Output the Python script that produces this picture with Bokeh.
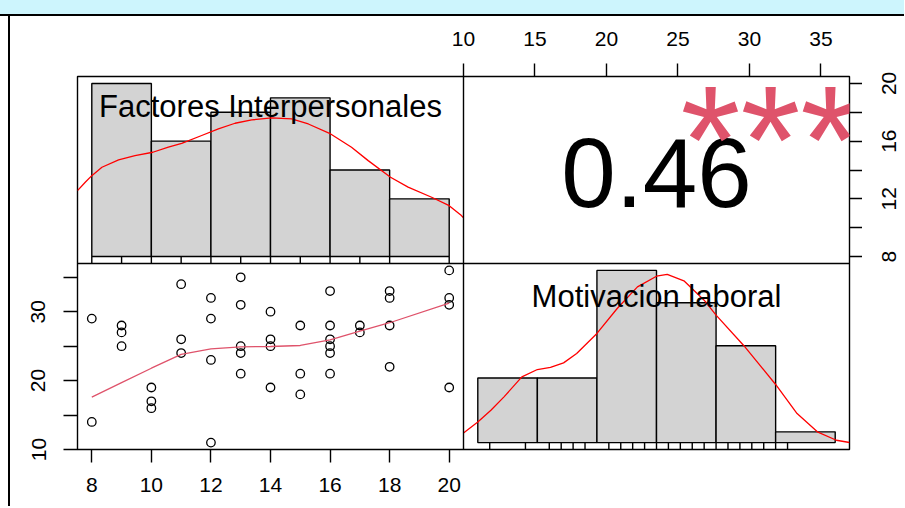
import numpy as np
from bokeh.plotting import figure
from bokeh.layouts import column, row
from bokeh.models import Range1d, LinearAxis, FixedTicker, Div, Span
from bokeh.core.properties import value
from bokeh.embed import file_html
from bokeh.resources import INLINE

# ---------------- data ----------------
var_names = ["Factores Interpersonales", "Motivacion laboral"]

factores = [8, 8, 9, 9, 9, 10, 10, 10, 11, 11, 11, 12, 12, 12, 12,
            13, 13, 13, 13, 13, 14, 14, 14, 14, 15, 15, 15,
            16, 16, 16, 16, 16, 16, 17, 17, 18, 18, 18, 18, 20, 20, 20, 20]
motivacion = [29, 14, 28, 27, 25, 19, 17, 16, 34, 26, 24, 32, 29, 23, 11,
              35, 31, 25, 24, 21, 30, 26, 25, 19, 28, 21, 18,
              33, 28, 26, 25, 24, 21, 28, 27, 33, 32, 28, 22, 36, 32, 31, 19]

hist1_edges = [8, 10, 12, 14, 16, 18, 20]
hist1_counts = [12, 8, 10, 11, 6, 4]
hist2_edges = [10, 15, 20, 25, 30, 35, 40]
hist2_counts = [6, 6, 16, 13, 9, 1]

# density curves (in count units of the histograms)
dens1_x = [7.52, 7.78, 8.0, 8.34, 8.9, 9.45, 10.05, 10.57, 11.02, 11.69, 12.25,
           12.81, 13.37, 14.04, 14.71, 15.27, 16.02, 16.72, 17.28, 18.03, 18.62,
           19.41, 20.0, 20.41, 20.48]
dens1_y = [4.57, 5.15, 5.61, 6.19, 6.70, 7.00, 7.23, 7.58, 7.85, 8.39, 8.85,
           9.24, 9.47, 9.61, 9.54, 9.19, 8.50, 7.58, 6.65, 5.50, 4.81,
           4.11, 3.53, 2.84, 2.69]
dens2_x = [8.8, 10.0, 11.1, 12.2, 13.7, 15.0, 16.1, 17.2, 18.3, 20.0, 21.7, 23.4,
           25.0, 25.9, 27.3, 29.0, 30.0, 32.3, 35.0, 36.8, 38.5, 40.1, 41.2]
dens2_y = [0.90, 1.92, 3.01, 4.25, 6.11, 6.79, 6.98, 7.41, 8.28, 10.14, 12.46, 14.47,
           15.46, 15.62, 15.03, 13.23, 11.84, 9.05, 5.40, 2.70, 1.00, 0.22, 0.01]

# smoother in the scatter panel
smooth_x = [8, 9, 10, 11, 12, 13, 14, 15, 16, 17, 18, 20]
smooth_y = [17.6, 19.7, 21.8, 23.8, 24.6, 24.9, 24.95, 25.1, 25.9, 27.2, 28.4, 31.25]

corr_text = "0.46"
signif_text = "***"

fact_ticks = [8, 10, 12, 14, 16, 18, 20]
fact_labelled = [8, 12, 16, 20]            # right axis: labels drawn
mot_ticks = [10, 15, 20, 25, 30, 35]
mot_labelled = [10, 20, 30]                # left axis: labels drawn

# ---------------- geometry helpers ----------------
FONT = "Liberation Sans"
LW = 1.4
FW = 386          # width of one panel
FH_T = 187        # height of the top row of panels
FH_B = 186        # height of the bottom row of panels


def padded(lo, hi, f=0.04):
    d = (hi - lo) * f
    return lo - d, hi + d


def left_full(lo, hi):
    return lo, hi + (hi - lo)


def right_full(lo, hi):
    return lo - (hi - lo), hi


def top_full(lo, hi):
    return lo - (hi - lo) * FH_B / FH_T, hi


def bottom_full(lo, hi):
    return lo, hi + (hi - lo) * FH_T / FH_B


def style_axis(ax, standoff, tick_out):
    ax.axis_line_color = None
    ax.major_tick_line_color = "black"
    ax.major_tick_line_width = LW
    ax.major_tick_out = tick_out
    ax.major_tick_in = 0
    ax.minor_tick_line_color = "black"
    ax.minor_tick_line_width = LW
    ax.minor_tick_out = tick_out
    ax.minor_tick_in = 0
    ax.major_label_text_font = FONT
    ax.major_label_text_font_size = "21px"
    ax.major_label_text_color = "black"
    ax.major_label_standoff = standoff


fx = padded(min(factores), max(factores))          # 7.52 .. 20.48
my = padded(min(motivacion), max(motivacion))      # 10 .. 37
h1y = padded(0, max(hist1_counts))
h2x = padded(hist2_edges[0], hist2_edges[-1])
h2y = padded(0, max(hist2_counts))

# ---------------- main figure (2 x 2 panels) ----------------
p = figure(frame_width=2 * FW, frame_height=FH_T + FH_B,
           x_range=Range1d(*left_full(*fx)), y_range=Range1d(*bottom_full(*my)),
           x_axis_location=None, y_axis_location=None,
           min_border_left=67, min_border_right=13, min_border_top=60, min_border_bottom=57,
           output_backend="svg", toolbar_location=None,
           background_fill_color="white", border_fill_color="white",
           outline_line_color="black", outline_line_width=LW)
p.xgrid.visible = False
p.ygrid.visible = False
p.extra_x_ranges = {"mot": Range1d(*right_full(*my)),
                    "h2": Range1d(*right_full(*h2x)),
                    "uL": Range1d(*left_full(0, 1)),
                    "uR": Range1d(*right_full(0, 1))}
p.extra_y_ranges = {"fac": Range1d(*top_full(*fx)),
                    "h1": Range1d(*top_full(*h1y)),
                    "h2": Range1d(*bottom_full(*h2y)),
                    "uT": Range1d(*top_full(0, 1)),
                    "uB": Range1d(*bottom_full(0, 1))}

# panel dividers
p.add_layout(Span(location=fx[1], dimension="height", line_color="black", line_width=LW))
p.add_layout(Span(location=my[1], dimension="width", line_color="black", line_width=LW))


def histogram(edges, counts, dx, dy, data, bottom, xr, yr):
    kw = {} if xr is None else {"x_range_name": xr}
    kw["y_range_name"] = yr
    p.quad(left=edges[:-1], right=edges[1:], bottom=0, top=counts,
           fill_color="#D3D3D3", line_color="black", line_width=LW, **kw)
    p.line(dx, dy, line_color="#FF0000", line_width=1.3, line_join="round", **kw)
    u = np.unique(data)
    p.segment(x0=u, x1=u, y0=bottom, y1=0, line_color="black", line_width=LW, **kw)


def panel_label(text, xr, yr, y):
    p.text(x=[0.5], y=[y], text=[text], x_range_name=xr, y_range_name=yr,
           text_align="center", text_baseline="middle",
           text_font=value(FONT), text_font_size="31px", text_color="black")


# top-left: histogram of Factores
histogram(hist1_edges, hist1_counts, dens1_x, dens1_y, factores, h1y[0], None, "h1")
panel_label(var_names[0], "uL", "uT", 0.841)

# top-right: correlation value and significance
p.text(x=[0.5], y=[0.484], text=[corr_text], x_range_name="uR", y_range_name="uT",
       text_align="center", text_baseline="middle",
       text_font=value(FONT), text_font_size="98px", text_color="black")
p.text(x=[0.795], y=[0.662], text=[signif_text], x_range_name="uR", y_range_name="uT",
       text_align="center", text_baseline="middle",
       text_font=value(FONT), text_font_size="154px", text_color="#DF536B")

# bottom-left: scatter with smoother
p.scatter(factores, motivacion, marker="circle", size=8.5, fill_color=None,
          line_color="black", line_width=1.3)
p.line(smooth_x, smooth_y, line_color="#DF536B", line_width=1.3)

# bottom-right: histogram of Motivacion
histogram(hist2_edges, hist2_counts, dens2_x, dens2_y, motivacion, h2y[0], "h2", "h2")
panel_label(var_names[1], "uR", "uB", 0.822)

# axes
top_ax = LinearAxis(x_range_name="mot", ticker=FixedTicker(ticks=mot_ticks))
style_axis(top_ax, 18, 13)
p.add_layout(top_ax, "above")

bot_ax = LinearAxis(ticker=FixedTicker(ticks=fact_ticks))
style_axis(bot_ax, 15, 13)
p.add_layout(bot_ax, "below")

left_ax = LinearAxis(ticker=FixedTicker(ticks=mot_labelled,
                                        minor_ticks=[t for t in mot_ticks if t not in mot_labelled]),
                     major_label_orientation="vertical")
style_axis(left_ax, 18, 14)
p.add_layout(left_ax, "left")

right_ticks = LinearAxis(y_range_name="fac", ticker=FixedTicker(ticks=[], minor_ticks=fact_ticks))
style_axis(right_ticks, 0, 13)
p.add_layout(right_ticks, "right")

# labels of the right-hand axis (same Factores scale, top panel only)
q = figure(frame_width=2, frame_height=FH_T,
           x_range=Range1d(0, 1), y_range=Range1d(*fx),
           x_axis_location=None, y_axis_location=None,
           min_border_left=34, min_border_right=6, min_border_top=60, min_border_bottom=24,
           output_backend="svg", toolbar_location=None,
           background_fill_color="white", border_fill_color="white",
           outline_line_color=None, align="start")
q.xgrid.visible = False
q.ygrid.visible = False
right_lab = LinearAxis(ticker=FixedTicker(ticks=fact_labelled),
                       major_label_orientation="vertical")
style_axis(right_lab, 0, 0)
right_lab.major_tick_line_color = None
right_lab.minor_tick_line_color = None
q.add_layout(right_lab, "left")

# window edge of the original screenshot
main_h = 60 + FH_T + FH_B + 57
top_strip = Div(text="", width=904, height=16, margin=(0, 0, 0, 0),
                styles={"background": "linear-gradient(to bottom, #CDF5FD 0px, #CDF5FD 14px, "
                                      "#000000 14px, #000000 16px)"})
left_strip = Div(text="", width=10, height=main_h, margin=(0, 0, 0, 0),
                 styles={"background": "linear-gradient(to right, #FFFFFF 0px, #FFFFFF 8px, "
                                       "#000000 8px, #000000 10px)"})

page = column(top_strip, row(left_strip, p, q, spacing=0), spacing=0)

open("out.html", "w").write(file_html(page, INLINE))
